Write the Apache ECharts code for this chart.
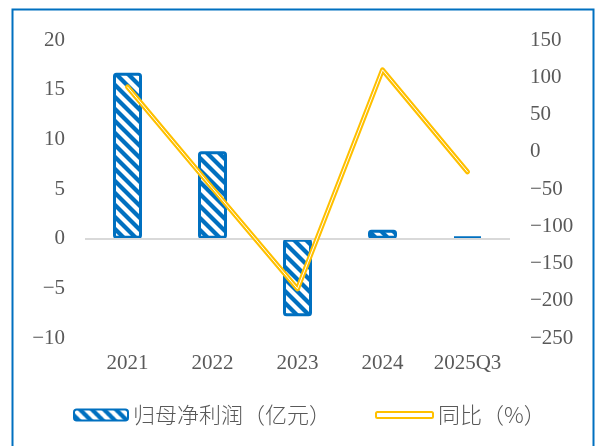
<!DOCTYPE html>
<html><head><meta charset="utf-8">
<script src="https://cdn.jsdelivr.net/npm/echarts@6/dist/echarts.min.js"></script>
<style>html,body{margin:0;padding:0;background:#fff}#c{width:600px;height:446px}</style>
</head><body><div id="c"></div>
<script>
const categories = ['2021', '2022', '2023', '2024', '2025Q3'];
const netProfit = [16.7, 8.8, -7.8, 0.9, 0.2];
const yoy = [87, -49, -184, 110, -27];
const leftTicks = {min: -10, max: 20, interval: 5};
const rightTicks = {min: -250, max: 150, interval: 50};
const barName = '归母净利润（亿元）';
const lineName = '同比（%）';

const BLUE = '#0070C0', YELLOW = '#FFC000', GREY = '#595959';
const pc = document.createElement('canvas');
pc.width = 12; pc.height = 12;
const ctx = pc.getContext('2d');
ctx.fillStyle = BLUE; ctx.fillRect(0, 0, 12, 12);
ctx.strokeStyle = '#fff'; ctx.lineWidth = 4.2;
for (let k = -2; k <= 2; k++) {
  ctx.beginPath(); ctx.moveTo(-12, -12 + k * 12); ctx.lineTo(24, 24 + k * 12); ctx.stroke();
}
const pattern = {image: pc, repeat: 'repeat'};
const minus = v => String(v).replace('-', '−');
const serif = 'Liberation Serif';
const legendText = {color: GREY, fontSize: 22, fontFamily: 'Noto Sans CJK SC', fontWeight: 300};

const chart = echarts.init(document.getElementById('c'), null, {renderer: 'canvas'});
chart.setOption({
  animation: false,
  backgroundColor: '#fff',
  grid: {left: 85, right: 90, top: 40, bottom: 108},
  legend: [
    {data: [barName], left: 68, top: 399, itemWidth: 54, itemHeight: 11, textStyle: legendText},
    {data: [{name: lineName, icon: 'roundRect', itemStyle: {color: '#fff', borderColor: YELLOW, borderWidth: 2}}],
     left: 370, top: 399, itemWidth: 57, itemHeight: 6, textStyle: legendText}
  ],
  graphic: [{type: 'rect', shape: {x: 12.5, y: 9.5, width: 581, height: 460}, style: {fill: 'none', stroke: BLUE, lineWidth: 2}, silent: true}],
  xAxis: {
    type: 'category', data: categories,
    axisLine: {show: false}, axisTick: {show: false},
    axisLabel: {color: GREY, fontSize: 21, fontFamily: serif, margin: 15, interval: 0}
  },
  yAxis: [
    {type: 'value', min: leftTicks.min, max: leftTicks.max, interval: leftTicks.interval,
     splitLine: {show: false}, axisLine: {show: false}, axisTick: {show: false},
     axisLabel: {color: GREY, fontSize: 21, fontFamily: serif, margin: 20, formatter: minus}},
    {type: 'value', min: rightTicks.min, max: rightTicks.max, interval: rightTicks.interval,
     splitLine: {show: false}, axisLine: {show: false}, axisTick: {show: false},
     axisLabel: {color: GREY, fontSize: 21, fontFamily: serif, margin: 20, formatter: minus}}
  ],
  series: [
    {name: barName, type: 'bar', data: netProfit, barWidth: 29,
     itemStyle: {color: pattern, borderColor: BLUE, borderWidth: 3, borderRadius: 2},
     markLine: {silent: true, symbol: 'none', label: {show: false},
       lineStyle: {color: '#d9d9d9', width: 2, type: 'solid'}, data: [{yAxis: 0}]}},
    {name: lineName, type: 'line', yAxisIndex: 1, data: yoy, symbol: 'none', z: 5,
     itemStyle: {color: YELLOW},
     lineStyle: {color: YELLOW, width: 5, cap: 'round', join: 'round'}},
    {name: 'inner', type: 'line', yAxisIndex: 1, data: yoy, symbol: 'none', z: 6,
     lineStyle: {color: '#ffffff', width: 1, cap: 'round', join: 'round'}}
  ]
});
</script></body></html>
